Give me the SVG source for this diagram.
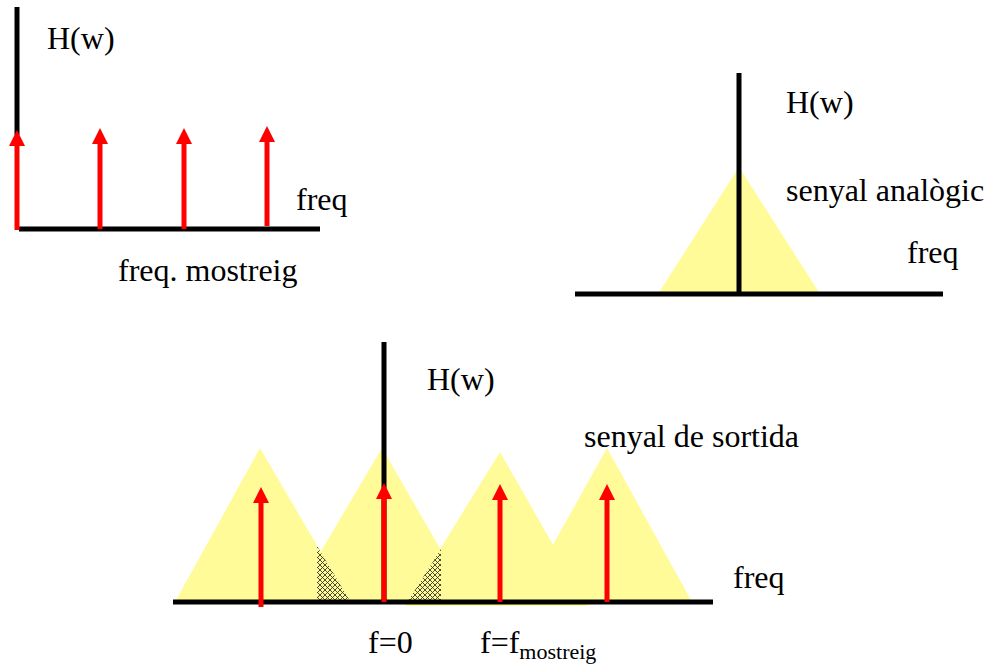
<svg xmlns="http://www.w3.org/2000/svg" width="988" height="665" viewBox="0 0 988 665">
  <style>
    .axis { stroke: #000; stroke-width: 5; fill: none; }
    .spec { fill: #FFFB99; stroke: none; }
    .imp { stroke: #FF0000; stroke-width: 5; fill: none; marker-end: url(#head); }
    .lbl { font-family: "Liberation Serif", "Times New Roman", serif; font-size: 32px; fill: #000; }
    .sub { font-size: 22px; }
  </style>
  <defs>
    <marker id="head" markerUnits="userSpaceOnUse" markerWidth="17" markerHeight="16" refX="0" refY="8" orient="auto" overflow="visible">
      <path d="M0,0 L16,8 L0,16 z" fill="#FF0000"/>
    </marker>
    <pattern id="hatch" patternUnits="userSpaceOnUse" width="5" height="5">
      <rect width="5" height="5" fill="#FFFB99"/>
      <path d="M0,0 L5,5 M5,0 L0,5" stroke="#3a3a28" stroke-width="0.9"/>
    </pattern>
  </defs>

  <!-- Top-left: sampling impulses -->
  <g id="sampling">
    <line class="axis" x1="17" y1="7" x2="17" y2="135"/>
    <line class="axis" x1="19" y1="229" x2="320" y2="229"/>
    <line class="imp" x1="17" y1="230" x2="17" y2="146"/>
    <line class="imp" x1="100" y1="229" x2="100" y2="144"/>
    <line class="imp" x1="184" y1="229" x2="184" y2="144"/>
    <line class="imp" x1="267" y1="226" x2="267" y2="142"/>
    <text class="lbl" x="47" y="49">H(w)</text>
    <text class="lbl" x="296" y="210">freq</text>
    <text class="lbl" x="118" y="281">freq. mostreig</text>
  </g>

  <!-- Top-right: analog signal -->
  <g id="analog">
    <polygon class="spec" points="658,294 739,167 820,294"/>
    <line class="axis" x1="575" y1="294" x2="943" y2="294"/>
    <line class="axis" x1="739" y1="73" x2="739" y2="294"/>
    <text class="lbl" x="786" y="113">H(w)</text>
    <text class="lbl" x="786" y="201">senyal analògic</text>
    <text class="lbl" x="907" y="263">freq</text>
  </g>

  <!-- Bottom: output signal -->
  <g id="output">
    <polygon class="spec" points="175,602 260,448 350,602"/>
    <polygon class="spec" points="291,602 382,448 471,602"/>
    <polygon class="spec" points="405,606 500,452 588,606"/>
    <polygon class="spec" points="521,602 607,448 692,602"/>
    <polygon fill="url(#hatch)" points="317,546 317,601 350,601"/>
    <polygon fill="url(#hatch)" points="408,601 441,549 441,601"/>
    <line class="axis" x1="173" y1="602" x2="713" y2="602"/>
    <line class="axis" x1="384" y1="342" x2="384" y2="602"/>
    <text class="lbl" x="427" y="390">H(w)</text>
    <text class="lbl" x="584" y="447">senyal de sortida</text>
    <text class="lbl" x="733" y="588">freq</text>
    <text class="lbl" x="368" y="653">f=0</text>
    <text class="lbl" x="480" y="653">f=f<tspan class="sub" dy="6">mostreig</tspan></text>
  </g>

  <g id="connectors">
    <line class="imp" x1="261" y1="607" x2="261" y2="503"/>
    <line class="imp" x1="384" y1="602" x2="384" y2="499"/>
    <line class="imp" x1="500" y1="602" x2="500" y2="500"/>
    <line class="imp" x1="607" y1="602" x2="607" y2="500"/>
  </g>
</svg>
